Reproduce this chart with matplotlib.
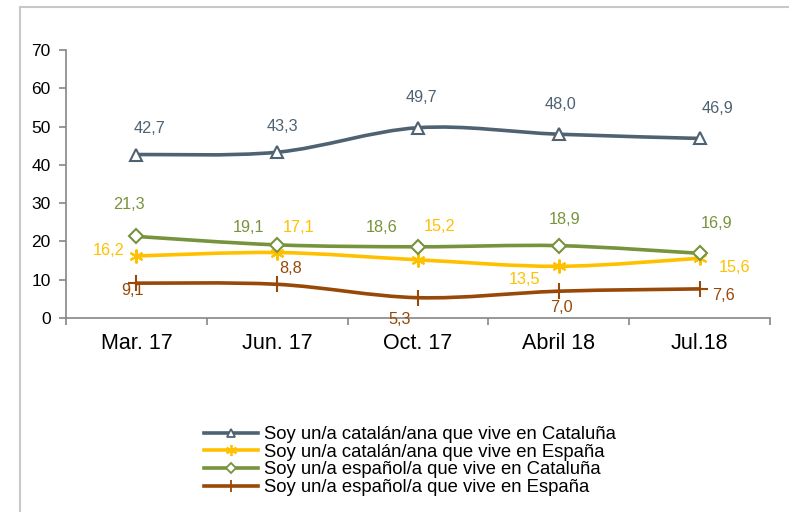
import matplotlib
matplotlib.use("Agg")
import matplotlib.pyplot as plt
from matplotlib.path import Path
from matplotlib.patches import PathPatch
from matplotlib.lines import Line2D
import numpy as np

plt.rcParams['font.family'] = ['Liberation Sans', 'DejaVu Sans']

periods = ["Mar. 17", "Jun. 17", "Oct. 17", "Abril 18", "Jul.18"]
catalan_cat = [42.7, 43.3, 49.7, 48.0, 46.9]
catalan_esp = [16.2, 17.1, 15.2, 13.5, 15.6]
espanol_cat = [21.3, 19.1, 18.6, 18.9, 16.9]
espanol_esp = [9.1, 8.8, 5.3, 7.0, 7.6]
names = ["Soy un/a catalán/ana que vive en Cataluña",
         "Soy un/a catalán/ana que vive en España",
         "Soy un/a español/a que vive en Cataluña",
         "Soy un/a español/a que vive en España"]

colors = ["#4F6272", "#FFC000", "#77933C", "#984807"]
markers = ["^", (6, 2, 0), "D", "+"]
msizes = [8, 10, 7, 11]
# label offsets in pixels (dx, dy)
offsets = [
    [(13, 26), (5, 26), (4, 30), (2, 30), (18, 30)],
    [(-28, 5), (21, 25), (22, 33), (-34, -13), (35, -9)],
    [(-7, 32), (-29, 17), (-36, 19), (6, 26), (17, 30)],
    [(-4, -7), (13, 16), (-18, -22), (3, -16), (24, -7)],
]


def smooth_path(x, y):
    pts = np.column_stack([x, y])
    n = len(pts)
    verts = [pts[0]]
    codes = [Path.MOVETO]
    for i in range(n - 1):
        p0 = pts[max(i - 1, 0)]
        p1 = pts[i]
        p2 = pts[i + 1]
        p3 = pts[min(i + 2, n - 1)]
        c1 = p1 + (p2 - p0) / 6.0
        c2 = p2 - (p3 - p1) / 6.0
        verts += [c1, c2, p2]
        codes += [Path.CURVE4] * 3
    return Path(verts, codes)


fig = plt.figure(figsize=(7.89, 5.12), dpi=100)
ax = fig.add_axes([66 / 789, 1 - 318 / 512, (770 - 66) / 789, (318 - 50) / 512])

x = np.arange(len(periods))
series = [catalan_cat, catalan_esp, espanol_cat, espanol_esp]
handles = []
for vals, c, m, ms, offs, name in zip(series, colors, markers, msizes, offsets, names):
    ax.add_patch(PathPatch(smooth_path(x, vals), facecolor="none", edgecolor=c,
                           lw=2.6, capstyle="round", zorder=3))
    mfc = "white" if m in ("^", "D") else c
    ax.plot(x, vals, linestyle="none", marker=m, ms=ms, mfc=mfc, mec=c,
            mew=1.5, zorder=4)
    for xi, v, (dx, dy) in zip(x, vals, offs):
        ax.annotate(f"{v:.1f}".replace(".", ","), (xi, v), xytext=(dx * 0.72, dy * 0.72),
                    textcoords="offset points", ha="center", va="center",
                    color=c, fontsize=11.7, zorder=5)
    handles.append(Line2D([], [], color=c, lw=2.6, marker=m, ms=ms * 0.8,
                          mfc=mfc, mec=c, mew=1.3))

ax.set_xlim(-0.5, len(periods) - 0.5)
ax.set_ylim(0, 70)
ax.set_yticks(range(0, 71, 10))
ax.set_xticks(x)
ax.set_xticklabels(periods, fontsize=15.5)
ax.set_xticks(np.arange(-0.5, len(periods), 1), minor=True)
ax.tick_params(axis="x", which="major", length=0, pad=11)
ax.tick_params(axis="x", which="minor", length=5, color="#868686", width=1.2)
ax.tick_params(axis="y", length=5, color="#868686", width=1.2, labelsize=12.5, pad=6)
for s in ["top", "right"]:
    ax.spines[s].set_visible(False)
for s in ["left", "bottom"]:
    ax.spines[s].set_color("#868686")
    ax.spines[s].set_linewidth(1.2)

fig.legend(handles, names, loc="upper left", bbox_to_anchor=(204 / 789, 1 - 426 / 512),
           frameon=False, fontsize=13.3, handlelength=2.9, handletextpad=0.35,
           labelspacing=0.04, borderpad=0, borderaxespad=0)

# outer frame
fig.add_artist(Line2D([20 / 789, 20 / 789], [0, 1 - 7 / 512], color="#C8C8C8", lw=1.5))
fig.add_artist(Line2D([20 / 789, 1], [1 - 7 / 512, 1 - 7 / 512], color="#C8C8C8", lw=1.5))

fig.savefig("out.png", dpi=100)
